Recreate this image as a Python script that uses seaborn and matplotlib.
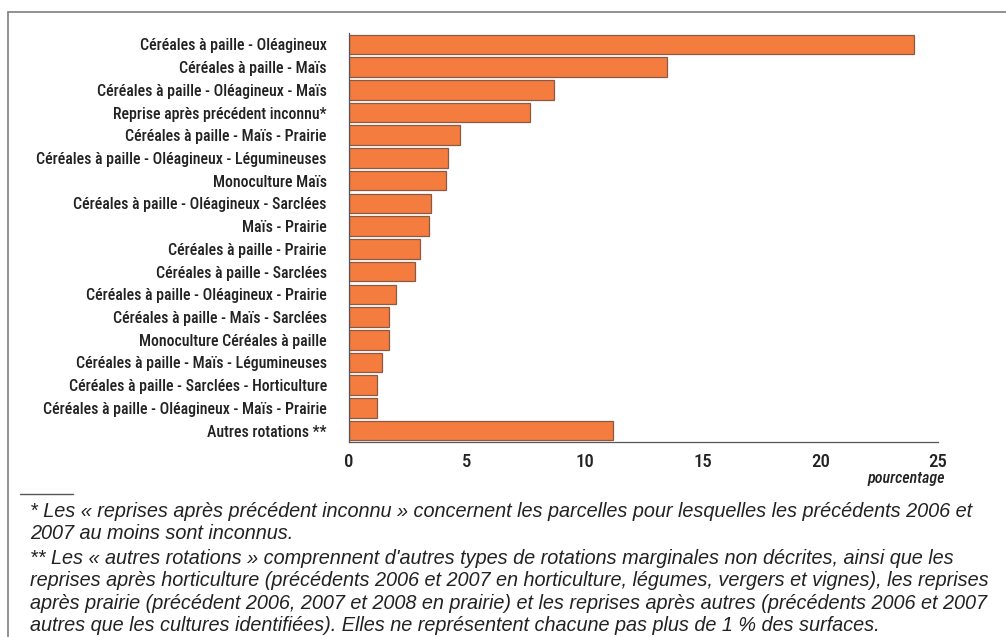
import matplotlib
matplotlib.use("Agg")
import matplotlib.pyplot as plt
import seaborn as sns
import pandas as pd
import numpy as np
from matplotlib.lines import Line2D

# Données
rotations = [
    "Céréales à paille - Oléagineux",
    "Céréales à paille - Maïs",
    "Céréales à paille - Oléagineux - Maïs",
    "Reprise après précédent inconnu*",
    "Céréales à paille - Maïs - Prairie",
    "Céréales à paille - Oléagineux - Légumineuses",
    "Monoculture Maïs",
    "Céréales à paille - Oléagineux - Sarclées",
    "Maïs - Prairie",
    "Céréales à paille - Prairie",
    "Céréales à paille - Sarclées",
    "Céréales à paille - Oléagineux - Prairie",
    "Céréales à paille - Maïs - Sarclées",
    "Monoculture Céréales à paille",
    "Céréales à paille - Maïs - Légumineuses",
    "Céréales à paille - Sarclées - Horticulture",
    "Céréales à paille - Oléagineux - Maïs - Prairie",
    "Autres rotations **",
]
pourcentages = [24.0, 13.5, 8.7, 7.7, 4.7, 4.2, 4.1, 3.5, 3.4, 3.0, 2.8,
                2.0, 1.7, 1.7, 1.4, 1.2, 1.2, 11.2]
x_ticks = [0, 5, 10, 15, 20, 25]

note_1 = ("* Les « reprises après précédent inconnu » concernent les parcelles pour lesquelles les précédents 2006 et\n"
          "2007 au moins sont inconnus.")
note_2 = ("** Les « autres rotations » comprennent d'autres types de rotations marginales non décrites, ainsi que les\n"
          "reprises après horticulture (précédents 2006 et 2007 en horticulture, légumes, vergers et vignes), les reprises\n"
          "après prairie (précédent 2006, 2007 et 2008 en prairie) et les reprises après autres (précédents 2006 et 2007\n"
          "autres que les cultures identifiées). Elles ne représentent chacune pas plus de 1 % des surfaces.")

sns.set_style("white")
plt.rcParams["font.family"] = ["Roboto Condensed", "DejaVu Sans"]
NOTE_FONT = ["Liberation Sans", "DejaVu Sans"]

df = pd.DataFrame({"rotation": rotations, "pct": pourcentages})

fig = plt.figure(figsize=(10.06, 6.37), dpi=100)
ax = fig.add_axes([0.3469, 0.3061, 0.5855, 0.6421])

sns.barplot(data=df, y="rotation", x="pct", orient="h", color="#F47C3F",
            edgecolor="#8A5A44", linewidth=0.9, width=0.86, saturation=1, ax=ax)

ax.set_xlim(0, 25)
ax.set_ylim(len(rotations) - 0.5, -0.5)
ax.set_xticks(x_ticks)
ax.set_xticklabels([str(t) for t in x_ticks], fontsize=13.5, color="#222222", fontweight="medium")
ax.set_xlabel("")
ax.set_ylabel("")

# graduations entre les barres, étiquettes au centre
ax.set_yticks(np.arange(-0.5, len(rotations), 1.0))
ax.set_yticklabels([])
ax.set_yticks(np.arange(len(rotations)), minor=True)
ax.set_yticklabels(rotations, minor=True, fontsize=11.4, color="#222222", fontweight="medium")
ax.tick_params(axis="y", which="major", length=7, width=0.9, color="#555555", direction="out")
ax.tick_params(axis="y", which="minor", length=0, pad=16)
ax.tick_params(axis="x", length=6, width=0.9, color="#555555", direction="out", pad=2)

for side in ["top", "right"]:
    ax.spines[side].set_visible(False)
for side in ["left", "bottom"]:
    ax.spines[side].set_color("#555555")
    ax.spines[side].set_linewidth(0.9)

fig.text(0.939, 0.249, "pourcentage", fontsize=11.5, style="italic", fontweight="medium",
         ha="right", va="center", color="#222222")

# cadre (haut et gauche)
fig.add_artist(Line2D([8 / 1006, 1.0], [1 - 12 / 637, 1 - 12 / 637],
                      color="#888888", linewidth=1.3, transform=fig.transFigure))
fig.add_artist(Line2D([8 / 1006, 8 / 1006], [0.0, 1 - 12 / 637],
                      color="#888888", linewidth=1.3, transform=fig.transFigure))

# notes
fig.add_artist(Line2D([20 / 1006, 73 / 1006], [1 - 494 / 637, 1 - 494 / 637],
                      color="#555555", linewidth=1.0, transform=fig.transFigure))
fig.text(30 / 1006, 1 - 502 / 637, note_1, fontsize=14.3, style="italic",
         family=NOTE_FONT, ha="left", va="top", color="#222222", linespacing=1.22)
fig.text(30 / 1006, 1 - 549 / 637, note_2, fontsize=14.3, style="italic",
         family=NOTE_FONT, ha="left", va="top", color="#222222", linespacing=1.22)

fig.savefig("out.png", dpi=100)
